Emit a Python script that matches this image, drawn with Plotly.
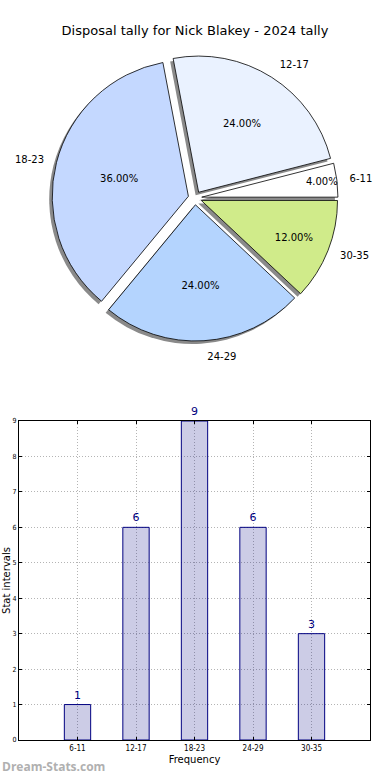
import plotly.graph_objects as go

categories = ["6-11", "12-17", "18-23", "24-29", "30-35"]
counts = [1, 6, 9, 6, 3]
pie_colors = ["#ffffff", "#eaf2ff", "#c4d8ff", "#b4d4fe", "#d0eb8a"]
shadow_colors = ["#8a8a8a"] * 5
pulls = [0.05] * 5
y_ticks = list(range(0, 10))

W, H = 390, 780
total = sum(counts)
rot = 90 - 360 * counts[0] / total  # first slice starts at 3 o'clock, counterclockwise

cx, cy, box = 195, 198, 286  # pie center / box in px
def dom(cx, cy, b):
    return dict(x=[(cx - b / 2) / W, (cx + b / 2) / W],
                y=[1 - (cy + b / 2) / H, 1 - (cy - b / 2) / H])

pie_common = dict(labels=categories, values=counts, sort=False, direction="counterclockwise",
                  rotation=rot, pull=pulls, showlegend=False)

fig = go.Figure()
# shadow
fig.add_trace(go.Pie(**pie_common, marker=dict(colors=shadow_colors, line=dict(width=0)),
                     textinfo="none", hoverinfo="skip", domain=dom(cx - 3, cy + 3, box)))
# main pie with percentages
fig.add_trace(go.Pie(**pie_common, marker=dict(colors=pie_colors, line=dict(color="#000000", width=0.8)),
                     texttemplate="%{percent:.2%}", textposition="inside", insidetextorientation="horizontal",
                     textfont=dict(family="DejaVu Sans", size=10, color="#000000"),
                     domain=dom(cx, cy, box)))
# outer labels
fig.add_trace(go.Pie(**pie_common, marker=dict(colors=["rgba(0,0,0,0)"] * 5, line=dict(width=0)),
                     textinfo="label", textposition="outside",
                     textfont=dict(family="DejaVu Sans", size=10, color="#000000"),
                     hoverinfo="skip", domain=dom(cx, cy, box * 1.07)))

fig.add_trace(go.Bar(x=categories, y=counts, width=0.45,
                     marker=dict(color="rgba(0,0,128,0.2)", line=dict(color="#000080", width=1)),
                     text=counts, textposition="outside", cliponaxis=False,
                     textfont=dict(family="DejaVu Sans", size=11, color="#000080"),
                     showlegend=False, xaxis="x", yaxis="y"))

axis_common = dict(showline=True, linecolor="#000000", linewidth=1, mirror="ticks",
                   showgrid=True, gridcolor="#b4b4b4", griddash="1px,2px", gridwidth=1,
                   ticks="inside", ticklen=3, tickcolor="#000000", zeroline=False,
                   automargin=False)

fig.update_layout(
    width=W, height=H, margin=dict(l=0, r=0, t=0, b=0, autoexpand=False),
    paper_bgcolor="#ffffff", plot_bgcolor="#ffffff",
    font=dict(family="DejaVu Sans", color="#000000"),
    uniformtext=dict(mode="show", minsize=10),
    title=dict(text="Disposal tally for Nick Blakey - 2024 tally", x=0.5, xanchor="center",
               y=1 - 30 / H, yanchor="middle", yref="container",
               font=dict(family="DejaVu Sans", size=13, color="#000000")),
    xaxis=dict(domain=[19 / W, 370 / W], range=[-1, 5], type="category",
               tickfont=dict(family="DejaVu Sans Condensed", size=8),
               title=dict(text="Frequency", font=dict(size=10), standoff=4), **axis_common),
    yaxis=dict(domain=[1 - 740 / H, 1 - 421 / H], range=[0, 9], tickvals=y_ticks,
               tickfont=dict(family="DejaVu Sans Condensed", size=7), ticklabelstandoff=0,
               title=dict(text="Stat intervals", font=dict(size=10), standoff=0), **axis_common),
    annotations=[dict(text="<b>Dream-Stats.com</b>", x=0, y=3 / H, xref="paper", yref="paper",
                      xanchor="left", yanchor="bottom", showarrow=False,
                      font=dict(family="Open Sans", size=12, color="#b0b0b0"))],
)

fig.write_html("out.html", config={"displayModeBar": False},
               post_script="document.body.style.margin='0';")
